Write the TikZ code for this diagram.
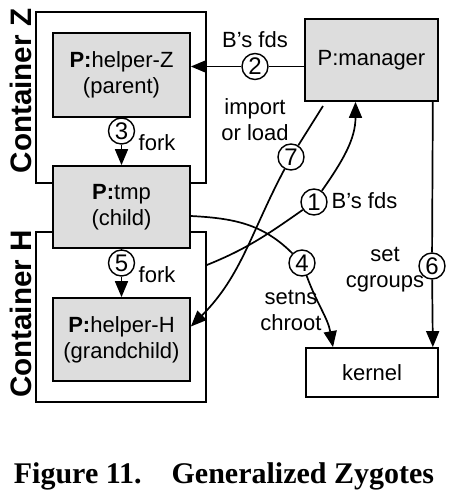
\documentclass[tikz,border=0pt]{standalone}
\usepackage{fontspec}
\setmainfont{Liberation Sans}
\newfontfamily\capfont{Liberation Serif}
\usetikzlibrary{arrows.meta}
\definecolor{boxgray}{RGB}{221,221,221}
\begin{document}
\begin{tikzpicture}[x=0.5pt,y=0.5pt,
  every node/.style={font=\fontsize{11}{13}\selectfont},
  proc/.style={draw, fill=boxgray, line width=0.85pt, inner sep=0pt, align=center},
  cont/.style={draw, line width=0.85pt, inner sep=0pt},
  num/.style={circle, draw, fill=white, line width=0.7pt, minimum size=13pt, inner sep=0pt, font=\fontsize{12}{13}\selectfont},
  lbl/.style={align=center, inner sep=0pt},
  conn/.style={line width=0.85pt},
  arr/.style={conn, -{Triangle[length=8pt,width=6.5pt]}},
  clabel/.style={rotate=90, inner sep=0pt, font=\fontsize{14.8}{16}\selectfont\bfseries}]
\useasboundingbox (0,0) rectangle (449,-499);
% containers
\node[cont, minimum width=85pt, minimum height=85.5pt] (contZ) at (121,-97.5) {};
\node[cont, minimum width=85pt, minimum height=85pt] (contH) at (121,-317) {};
\node[clabel] (labZ) at (21,-91) {Container Z};
\node[clabel] (labH) at (21,-314) {Container H};
% processes
\node[proc, minimum width=68.5pt, minimum height=42pt] (helperZ) at (121.5,-75) {\textbf{P:}helper-Z\\(parent)};
\node[proc, minimum width=68.5pt, minimum height=41pt] (tmp) at (121.5,-207) {\textbf{P:}tmp\\(child)};
\node[proc, minimum width=68.5pt, minimum height=41.5pt] (helperH) at (121.5,-339.5) {\textbf{P:}helper-H\\(grandchild)};
\node[proc, minimum width=66.5pt, minimum height=41pt] (manager) at (371.5,-60) {P:manager};
\node[cont, minimum width=66pt, minimum height=24.5pt] (kernel) at (372,-372.5) {kernel};
% step circles
\node[num] (n2) at (255,-66.5) {2};
\node[num] (n3) at (121.5,-131) {3};
\node[num] (n5) at (121.5,-263) {5};
\node[num] (n7) at (291,-157) {7};
\node[num] (n1) at (314,-202) {1};
\node[num] (n4) at (302,-263) {4};
\node[num] (n6) at (432,-266) {6};
% connectors
\draw[conn] (helperZ.south) -- (n3);
\draw[arr] (n3) -- (tmp.north);
\draw[conn] (tmp.south) -- (n5);
\draw[arr] (n5) -- (helperH.north);
\draw[conn] (manager.west |- n2) -- (n2);
\draw[arr] (n2) -- (helperZ.east |- n2);
\coordinate (s7) at (323,-106);
\draw[conn] (s7) -- (n7);
\draw[arr] (n7) to[out=242,in=45] ([yshift=6.5pt]helperH.east);
\coordinate (s1) at (contH.east |- 0,-265);
\draw[conn] (s1) to[out=22,in=215] (n1);
\draw[arr] (n1) to[out=55,in=-90] ([xshift=-8pt]manager.south);
\draw[conn] ([yshift=-4.5pt]tmp.east) to[out=-3,in=135] (n4);
\draw[arr] (n4) to[out=-70,in=100] ([xshift=-19.5pt]kernel.north);
\draw[conn] ([xshift=-3pt]manager.south east) -- (n6);
\draw[arr] (n6) -- ([xshift=-3pt]kernel.north east);
% labels
\node[lbl] (t2) at (255,-40) {B’s fds};
\node[lbl] (t7) at (255,-119.5) {import\\or load};
\node[lbl] (t1) at (364.5,-201) {B’s fds};
\node[lbl] (t3) at (157,-143) {fork};
\node[lbl] (t5) at (157,-275) {fork};
\node[lbl] (t4) at (291,-310) {setns\\chroot};
\node[lbl] (t6) at (385,-269.5) {set\\cgroups};
% caption
\node[font=\capfont\bfseries\fontsize{15}{18}\selectfont, anchor=base, inner sep=0pt] (cap) at (224,-483) {Figure 11.\hspace{1em}Generalized Zygotes};
\end{tikzpicture}
\end{document}
